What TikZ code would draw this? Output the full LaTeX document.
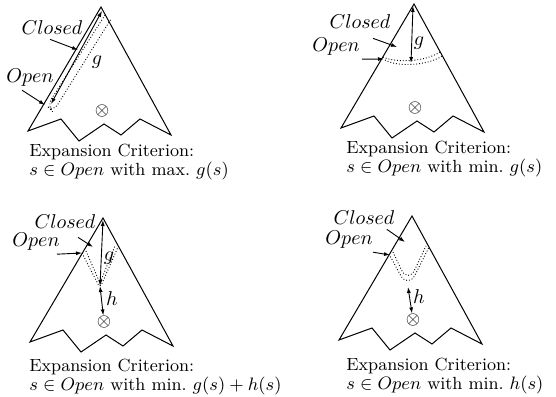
\documentclass[tikz,border=0pt]{standalone}
\usetikzlibrary{arrows.meta}
\begin{document}
\begin{tikzpicture}[
  x=0.5pt, y=-0.5pt,
  tree/.style={line width=0.5pt, line join=miter},
  arr/.style={-{Latex[length=3pt,width=2pt]}, line width=0.45pt},
  garr/.style={{Latex[length=3pt,width=2pt]}-{Latex[length=3pt,width=2pt]}, line width=0.45pt},
  band/.style={densely dotted, line width=0.45pt},
  lbl/.style={font=\fontsize{9.6}{10}\selectfont, inner sep=0pt},
  crit/.style={font=\fontsize{8.8}{7.6}\selectfont, inner sep=0pt,
               align=left, anchor=west},
  goal/.style={font=\fontsize{9}{10}\selectfont, inner sep=0pt},
]
\useasboundingbox (0,0) rectangle (556,396);

%% ── search trees with goal ────────────────────────────────────────
\foreach \ax/\ay/\i in {101/7/1, 414/4/2, 103/218/3, 412/216/4}{
  \begin{scope}[shift={(\ax,\ay)}]
    \draw[tree] (0,0) -- (-73,124) -- (-40,112) -- (-22,134) -- (3,117)
      -- (20,128) -- (39,112) -- (70,128) -- cycle;
    \node[goal] (goal\i) at (1,104) {$\otimes$};
  \end{scope}
}

%% ═══ TOP LEFT: max. g ════════════════════════════════════════════
\coordinate (top1) at (102,11);
\coordinate (bot1) at (51,104);
\draw[garr] (top1) -- (bot1);
\draw[band, rounded corners=4] (105,15) -- (47,106) -- (53,112) -- (111,19);
\node[lbl] (cl1) at (52,28) {$Closed$};
\node[lbl] (ol1) at (30,78) {$Open$};
\node[lbl] (g1) at (97,62) {$g$};
\coordinate (ct1) at (78,50);
\coordinate (ot1) at (45,105);
\draw[arr] ([shift={(-2,4)}]cl1.south) -- (ct1);
\draw[arr] ([shift={(-8,3)}]ol1.south) -- (ot1);
\node[crit] (crit1) at (29,162)
  {Expansion Criterion:\\ $s\in Open$ with max.\ $g(s)$};

%% ═══ TOP RIGHT: min. g ═══════════════════════════════════════════
\coordinate (top2) at (413,6);
\coordinate (bot2) at (411,63);
\draw[garr] (top2) -- (bot2);
\draw[band] (383,57) .. controls (396,63) and (425,62) .. (440,52);
\draw[band] (385,60) .. controls (397,67) and (427,66) .. (442,56);
\node[lbl] (cl2) at (360,22) {$Closed$};
\node[lbl] (ol2) at (336,47) {$Open$};
\node[lbl] (g2) at (419,43) {$g$};
\coordinate (ct2) at (397,47);
\coordinate (ot2) at (384,59);
\draw[arr] ([shift={(13,9)}]cl2.south) -- (ct2);
\draw[arr] ([shift={(2,3)}]ol2.south east) -- (ot2);
\node[crit] (crit2) at (346,159)
  {Expansion Criterion:\\ $s\in Open$ with min.\ $g(s)$};

%% ═══ BOTTOM LEFT: min. g + h ═════════════════════════════════════
\coordinate (top3) at (103,220);
\coordinate (mid3) at (100,286);
\draw[garr] (top3) -- (mid3);
\draw[garr] (mid3) -- (goal3);
\draw[band, rounded corners=2] (82,253) -- (100,288) -- (118,247);
\draw[band, rounded corners=2] (86,251) -- (100,283) -- (115,246);
\node[lbl] (cl3) at (65,222) {$Closed$};
\node[lbl] (ol3) at (36,242) {$Open$};
\node[lbl] (g3) at (109,258) {$g$};
\node[lbl] (h3) at (112,299) {$h$};
\coordinate (ct3) at (93,247);
\coordinate (ot3) at (82,253);
\draw[arr] ([shift={(13,8)}]cl3.south) -- (ct3);
\draw[arr] ([shift={(-3,3)}]ol3.south east) -- (ot3);
\node[crit] (crit3) at (29,377)
  {Expansion Criterion:\\ $s\in Open$ with min.\ $g(s)+h(s)$};

%% ═══ BOTTOM RIGHT: min. h ════════════════════════════════════════
\coordinate (mid4) at (408,287);
\draw[garr] (mid4) -- (goal4);
\draw[band, rounded corners=8] (389,254) -- (408,289) -- (429,247);
\draw[band, rounded corners=8] (393,252) -- (408,284) -- (426,246);
\node[lbl] (cl4) at (364,218) {$Closed$};
\node[lbl] (ol4) at (349,240) {$Open$};
\node[lbl] (h4) at (419,297) {$h$};
\coordinate (ct4) at (405,242);
\coordinate (ot4) at (390,255);
\draw[arr] ([shift={(-8,4)}]cl4.south east) -- (ct4);
\draw[arr] ([shift={(0,3)}]ol4.south east) -- (ot4);
\node[crit] (crit4) at (346,376)
  {Expansion Criterion:\\ $s\in Open$ with min.\ $h(s)$};

\end{tikzpicture}
\end{document}
